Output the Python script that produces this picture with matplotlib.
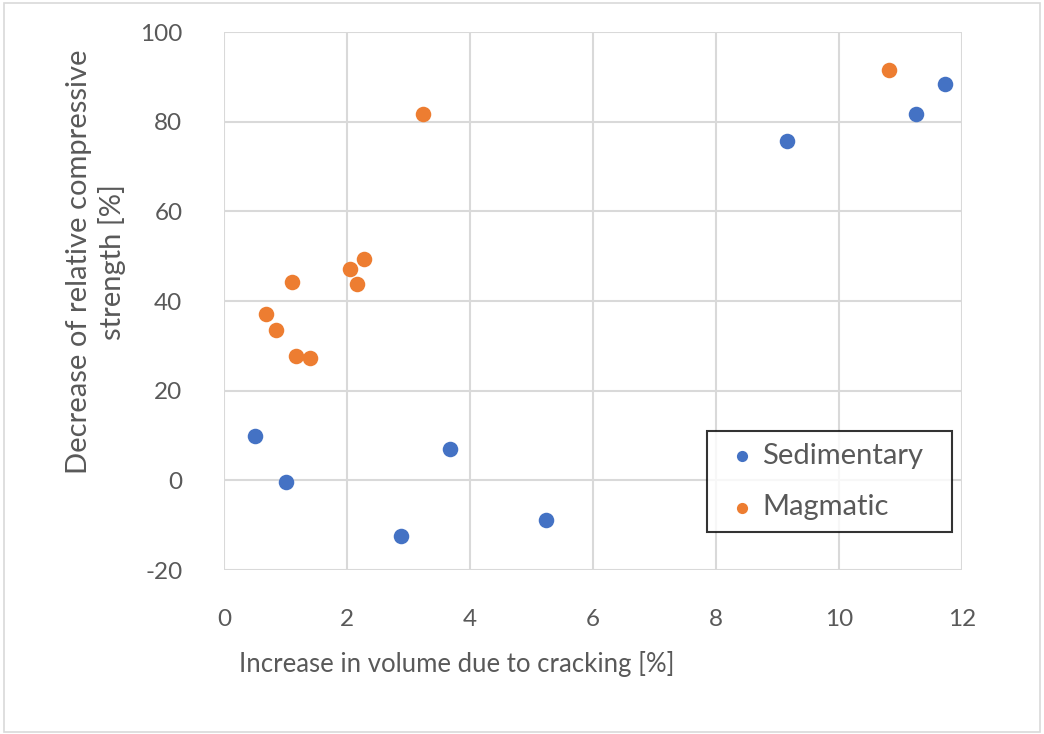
import matplotlib.pyplot as plt
from matplotlib.patches import Rectangle

# data
sed_x = [0.50, 1.01, 2.87, 3.67, 5.23, 9.16, 11.25, 11.73]
sed_y = [10.0, -0.4, -12.3, 7.1, -8.9, 75.8, 81.8, 88.3]

mag_x = [1.11, 2.05, 2.27, 2.16, 0.69, 0.84, 1.17, 1.40, 3.23, 10.82]
mag_y = [44.2, 47.1, 49.4, 43.7, 37.2, 33.5, 27.7, 27.4, 81.8, 91.5]

x_ticks = [0, 2, 4, 6, 8, 10, 12]
y_ticks = [-20, 0, 20, 40, 60, 80, 100]

plt.rcParams['font.family'] = ['Lato', 'DejaVu Sans']
plt.rcParams['axes.unicode_minus'] = False
txt = '#595959'
grid = '#d9d9d9'

fig = plt.figure(figsize=(10.44, 7.34), dpi=100)
fig.patches.append(Rectangle((0.004, 0.003), 0.992, 0.993, transform=fig.transFigure,
                             fill=False, edgecolor=grid, linewidth=1.2))

ax = fig.add_axes([0.2146, 0.2234, 0.7069, 0.7330])
ax.scatter(sed_x, sed_y, s=125, color='#4472C4', linewidths=0, label='Sedimentary', zorder=3)
ax.scatter(mag_x, mag_y, s=125, color='#ED7D31', linewidths=0, label='Magmatic', zorder=3)

ax.set_xlim(0, 12)
ax.set_ylim(-20, 100)
ax.set_xticks(x_ticks)
ax.set_yticks(y_ticks)
ax.grid(True, color=grid, linewidth=1.5)
ax.set_axisbelow(True)
for s in ax.spines.values():
    s.set_visible(False)
ax.tick_params(length=0, labelsize=17.5, colors=txt)
ax.tick_params(axis='y', pad=30)
ax.tick_params(axis='x', pad=28)

# axis titles placed like the Excel original (x title sits left of centre)
fig.text(457 / 1044, 1 - 664 / 734, 'Increase in volume due to cracking [%]',
         fontsize=18.5, color=txt, ha='center', va='center')
fig.text(96 / 1044, 1 - 262 / 734, 'Decrease of relative compressive\nstrength [%]',
         fontsize=21, color=txt, ha='center', va='center', rotation=90,
         multialignment='center', linespacing=1.25)

# legend box spans the same area as in the reference
leg = ax.legend(loc='lower left', bbox_to_anchor=(0.6545, 0.0706, 0.332, 0.19),
                mode='expand', fontsize=21, frameon=True, fancybox=False,
                markerscale=0.72, handletextpad=-0.1, handlelength=1.6,
                borderpad=0.4, labelspacing=0.88, borderaxespad=0)
leg.get_frame().set_edgecolor('black')
leg.get_frame().set_linewidth(1.5)
for t in leg.get_texts():
    t.set_color(txt)

fig.savefig('out.png', dpi=100)
